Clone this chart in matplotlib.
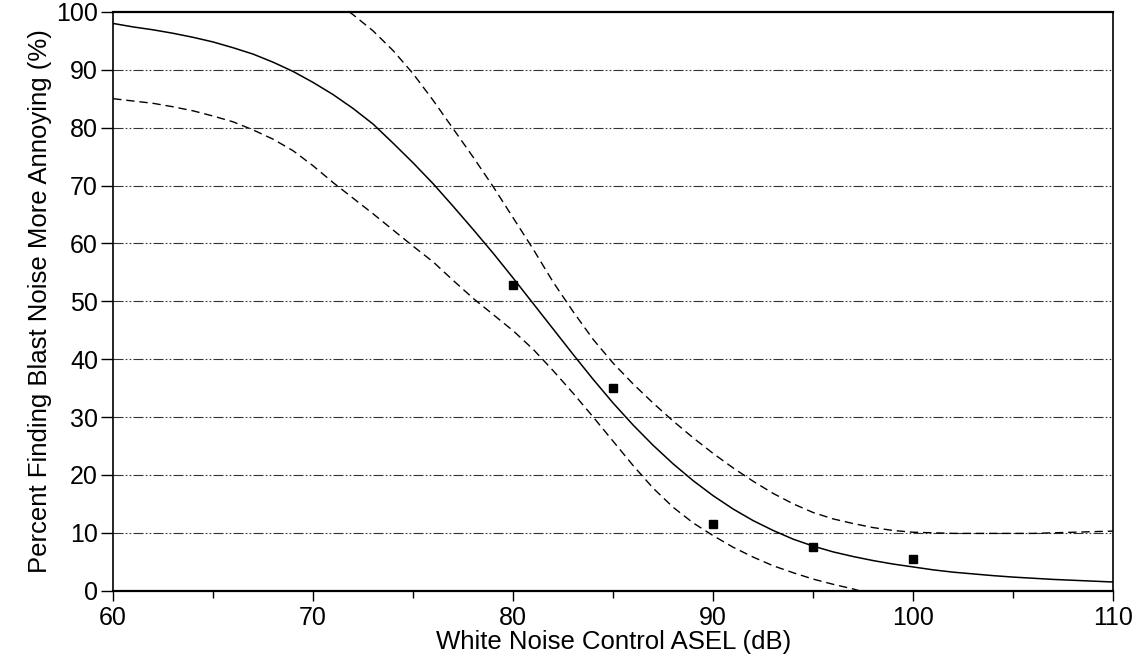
import numpy as np
import matplotlib
matplotlib.use("Agg")
import matplotlib.pyplot as plt

plt.rcParams['font.family'] = ['Liberation Sans', 'DejaVu Sans']

# observed points
obs_x = [80, 85, 90, 95, 100]
obs_y = [52.8, 35.0, 11.5, 7.6, 5.5]

# fitted curve (1 dB steps)
fit_x = list(range(60, 111))
fit_y = [98.0, 97.4, 96.9, 96.3, 95.6, 94.8, 93.8, 92.7, 91.3, 89.7,
         87.8, 85.7, 83.3, 80.6, 77.3, 73.9, 70.3, 66.4, 62.4, 58.3,
         54.0, 49.6, 45.2, 40.8, 36.5, 32.4, 28.6, 25.1, 21.9, 19.0,
         16.4, 14.1, 12.1, 10.4, 8.9, 7.7, 6.7, 5.9, 5.2, 4.6,
         4.1, 3.6, 3.2, 2.9, 2.6, 2.35, 2.15, 1.95, 1.8, 1.65, 1.5]

# upper bound (dashed)
up_x = [71.8] + list(range(72, 111))
up_y = [100.0, 99.5, 96.7, 93.3, 89.3, 84.7, 79.8, 74.9, 69.8,
        64.4, 59.0, 53.3, 48.2, 43.4, 39.3, 35.7, 32.4, 29.3, 26.4,
        23.7, 21.2, 18.9, 16.8, 15.0, 13.5, 12.4, 11.6, 10.9, 10.4,
        10.1, 10.0, 9.9, 9.9, 9.9, 9.9, 9.9, 10.0, 10.1, 10.2, 10.3]

# lower bound (dashed)
lo_x = list(range(60, 98)) + [97.3]
lo_y = [85.0, 84.6, 84.2, 83.6, 82.9, 82.0, 81.0, 79.6, 78.0, 76.0,
        73.4, 70.5, 67.8, 65.1, 62.3, 59.5, 56.8, 53.6, 50.5, 47.7,
        44.9, 41.7, 38.0, 34.1, 30.0, 25.8, 21.6, 17.7, 14.4, 11.7,
        9.5, 7.5, 5.8, 4.3, 3.1, 2.0, 1.1, 0.3, 0.0]

yticks = list(range(0, 101, 10))
xticks = list(range(60, 111, 10))

fig = plt.figure(figsize=(11.43, 6.6), dpi=100)
ax = fig.add_axes([0.099, 0.105, 0.875, 0.877])

# dash-dot-dot grid lines
for yv in yticks[1:-1]:
    ax.axhline(yv, color='#333333', lw=0.8, linestyle=(0, (9, 2, 1.5, 2, 1.5, 2)), zorder=1)

ax.plot(fit_x, fit_y, color='black', lw=1.1, zorder=3)
ax.plot(up_x, up_y, color='black', lw=1.0, linestyle=(0, (6, 3.5)), zorder=3)
ax.plot(lo_x, lo_y, color='black', lw=1.0, linestyle=(0, (6, 3.5)), zorder=3)
ax.plot(obs_x, obs_y, 's', color='black', ms=5.5, zorder=4)

ax.set_xlim(60, 110)
ax.set_ylim(0, 100)
ax.set_xticks(xticks)
ax.set_xticks(list(range(65, 110, 10)), minor=True)
ax.set_yticks(yticks)
ax.tick_params(axis='both', which='major', labelsize=18, direction='out', width=1.0, color='black')
ax.tick_params(axis='x', which='major', length=7, pad=4)
ax.tick_params(axis='x', which='minor', length=5, width=1.0)
ax.tick_params(axis='y', which='major', length=9, pad=2)

for sp in ax.spines.values():
    sp.set_linewidth(1.2)
ax.spines['top'].set_linewidth(1.6)
ax.spines['bottom'].set_linewidth(1.6)

ax.set_xlabel('White Noise Control ASEL (dB)', fontsize=18.5, labelpad=0)
ax.set_ylabel('Percent Finding Blast Noise More Annoying (%)', fontsize=18.5, labelpad=3)

fig.savefig('out.png', dpi=100)
